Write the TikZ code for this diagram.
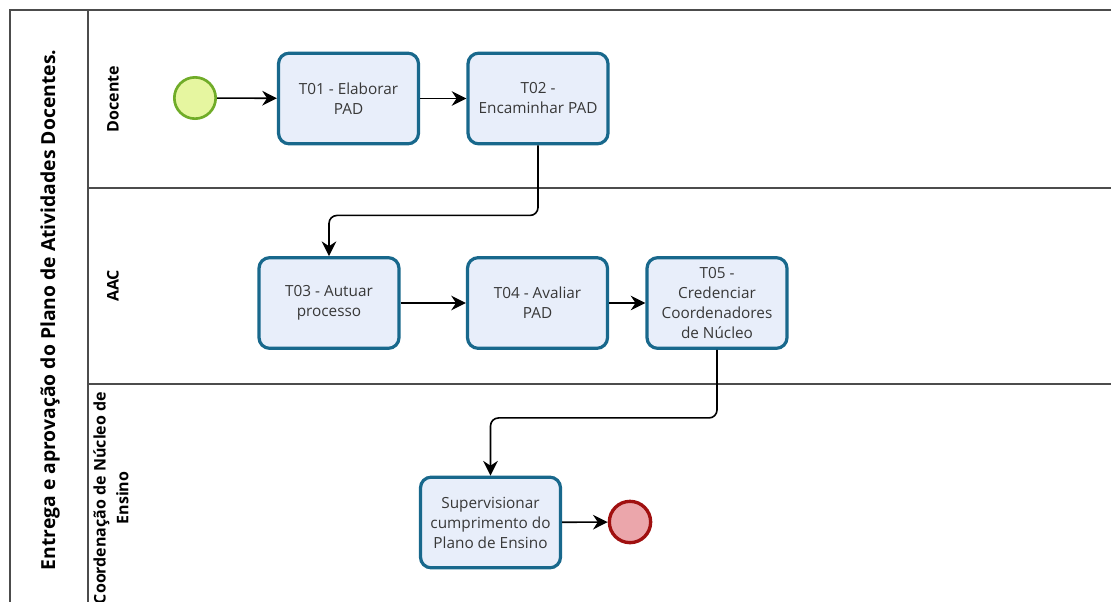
\documentclass[tikz,border=0pt]{standalone}
\usepackage{fontspec}
\setmainfont{Open Sans}
\usetikzlibrary{positioning}
\usetikzlibrary{arrows.meta,calc}
\definecolor{taskline}{RGB}{24,104,140}
\definecolor{taskfill}{RGB}{232,238,250}
\definecolor{startline}{RGB}{112,172,40}
\definecolor{startfill}{RGB}{230,246,160}
\definecolor{endline}{RGB}{160,16,16}
\definecolor{endfill}{RGB}{235,166,171}
\tikzstyle{task}=[rectangle,rounded corners=8pt,draw=taskline,fill=taskfill,line width=2.4pt,minimum width=105pt,minimum height=68pt,inner sep=2pt,align=center,text=black!78,font=\fontsize{11.5}{15}\selectfont]
\tikzstyle{startevent}=[circle,draw=startline,fill=startfill,line width=2pt,minimum size=31pt,inner sep=0pt]
\tikzstyle{endevent}=[circle,draw=endline,fill=endfill,line width=2.5pt,minimum size=31pt,inner sep=0pt]
\tikzstyle{edge} = [draw,line width=1.2pt,-{Stealth[length=11pt,width=11pt]},rounded corners=6pt]
\tikzstyle{lane} = [draw=black!70,line width=1.4pt]
\tikzstyle{lanelabel} = [rotate=90,align=center,font=\bfseries\fontsize{12}{17}\selectfont]
\tikzstyle{poollabel} = [rotate=90,font=\bfseries\fontsize{14.5}{17}\selectfont]
\begin{document}
\begin{tikzpicture}[x=0.75pt,y=-0.75pt]
    \useasboundingbox (0,0) rectangle (1111,601);
    \clip (0,0) rectangle (1111,601);

    % pool and lanes
    \draw[lane] (10,10) rectangle (1140,650);
    \draw[lane] (88,10) -- (88,650);
    \draw[lane] (88,188) -- (1140,188);
    \draw[lane] (88,384) -- (1140,384);

    \node[poollabel] (pool) at (50,310) {Entrega e aprovação do Plano de Atividades Docentes.};
    \node[lanelabel] (docente) at (113,99) {Docente};
    \node[lanelabel] (aac) at (113,286) {AAC};
    \node[lanelabel] (cne) at (111,498) {Coordenação de Núcleo de\\Ensino};

    \node[startevent] (start) at (195,98) {};
    \node[endevent] (end) at (630,522) {};

    \foreach \pos/\name/\text in {{(348.5,98.5)/T01/{T01 - Elaborar\\PAD}},
            {(538,98.5)/T02/{T02 -\\Encaminhar PAD}},
            {(329,303)/T03/{T03 - Autuar\\processo}},
            {(537.5,303)/T04/{T04 - Avaliar\\PAD}},
            {(717,303)/T05/{T05 -\\Credenciar\\Coordenadores\\de Núcleo}},
            {(490.5,522.5)/T06/{Supervisionar\\cumprimento do\\Plano de Ensino}}}
        \node[task] (\name) at \pos {\text};

    \foreach \source/ \dest in {start/T01, T01/T02, T03/T04, T04/T05, T06/end}
        \path[edge] (\source) -- (\dest);

    \path[edge] (T02.south) -- ++(0,70) -| (T03.north);
    \path[edge] (T05.south) -- ++(0,68) -| (T06.north);

\end{tikzpicture}
\end{document}
